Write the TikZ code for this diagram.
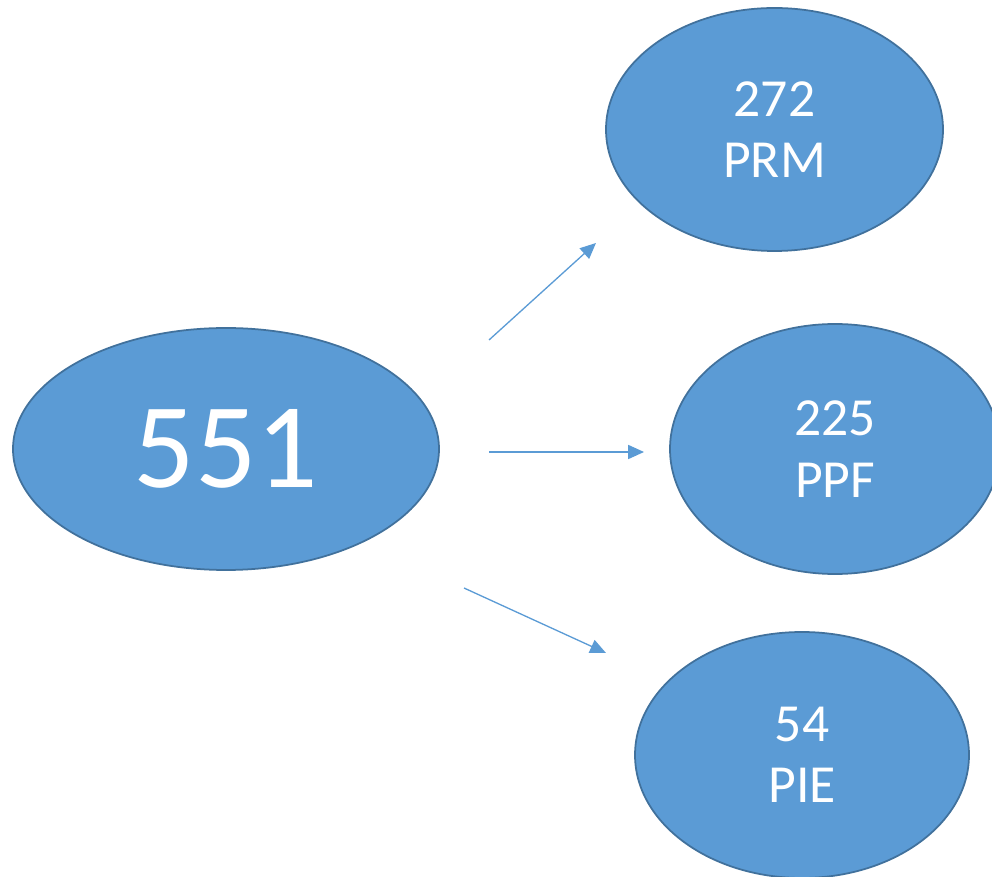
\documentclass[tikz,border=0pt]{standalone}
\usepackage{fontspec}
\setmainfont{Carlito}
\usepackage{tikz}
\usetikzlibrary{positioning, arrows.meta, shapes.geometric}
\definecolor{office_blue}{HTML}{5B9BD5}
\definecolor{office_darkblue}{HTML}{41719C}
\tikzstyle{bubble} = [ellipse, draw=office_darkblue, line width=1pt, fill=office_blue, text=white, inner sep=0pt, align=center, font=\fontsize{30.5}{35}\selectfont]
\tikzstyle{arrow} = [draw=office_blue, line width=0.75pt, -{Triangle[length=9pt, width=8pt]}]

\begin{document}
\begin{tikzpicture}
        \useasboundingbox (0,0) rectangle (19.84,17.52);
        \node (total) [bubble, minimum width=8.52cm, minimum height=4.84cm, font=\fontsize{69}{72}\selectfont] at (4.52,8.54) {551};
        \node (prm) [bubble, minimum width=6.74cm, minimum height=4.86cm] at (15.49,14.93) {272\\PRM};
        \node (ppf) [bubble, minimum width=6.6cm, minimum height=5.0cm] at (16.70,8.54) {225\\PPF};
        \node (pie) [bubble, minimum width=6.68cm, minimum height=4.92cm] at (16.04,2.42) {54\\PIE};
        
        % free-standing arrows between the bubbles
        \coordinate (prm_start) at (9.78,10.72);
        \coordinate (prm_end) at (11.92,12.66);
        \coordinate (ppf_start) at (9.78,8.48);
        \coordinate (ppf_end) at (12.88,8.48);
        \coordinate (pie_start) at (9.28,5.76);
        \coordinate (pie_end) at (12.12,4.46);
        
        \draw [arrow] (prm_start) -- (prm_end);
        \draw [arrow] (ppf_start) -- (ppf_end);
        \draw [arrow] (pie_start) -- (pie_end);
        
    \end{tikzpicture}
\end{document}
